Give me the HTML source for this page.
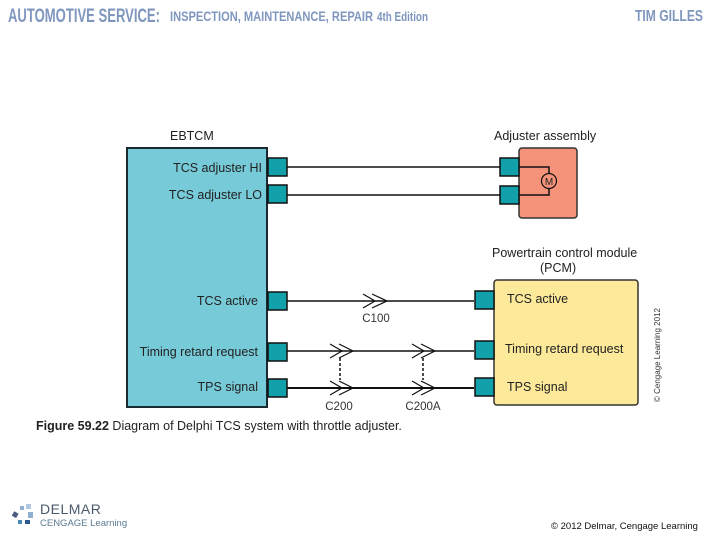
<!DOCTYPE html>
<html><head><meta charset="utf-8"><style>
body{margin:0;width:720px;height:540px;background:#fff;overflow:hidden;position:relative;font-family:"Liberation Sans",sans-serif}
</style></head><body>
<svg width="720" height="540" viewBox="0 0 720 540" xmlns="http://www.w3.org/2000/svg" style="position:absolute;left:0;top:0">
<g font-family="Liberation Sans, sans-serif" font-weight="bold" fill="#7f96bf">
<text x="8" y="22" font-size="19" textLength="152" lengthAdjust="spacingAndGlyphs">AUTOMOTIVE SERVICE:</text>
<text x="170" y="21" font-size="14" textLength="203" lengthAdjust="spacingAndGlyphs">INSPECTION, MAINTENANCE, REPAIR</text>
<text x="377" y="21" font-size="13" textLength="51" lengthAdjust="spacingAndGlyphs">4th Edition</text>
<text x="635" y="21" font-size="16" textLength="68" lengthAdjust="spacingAndGlyphs">TIM GILLES</text>
</g>
<g font-size="12.5" fill="#222">
<text x="170" y="140">EBTCM</text>
<text x="494" y="140">Adjuster assembly</text>
<text x="492" y="257">Powertrain control module</text>
<text x="540" y="272">(PCM)</text>
</g>
<rect x="127" y="148" width="140" height="259" fill="#77cbd9" stroke="#1a2a30" stroke-width="2"/>
<rect x="519" y="148" width="58" height="70" rx="3" fill="#f4937a" stroke="#333" stroke-width="1.5"/>
<rect x="494" y="280" width="144" height="125" rx="3" fill="#fde99a" stroke="#333" stroke-width="1.5"/>
<g stroke="#111" stroke-width="1.5" fill="none">
<line x1="287" y1="167" x2="500" y2="167"/>
<line x1="287" y1="195" x2="500" y2="195"/>
<line x1="287" y1="301" x2="474" y2="301"/>
<line x1="287" y1="351" x2="474" y2="351"/>
<line x1="287" y1="388" x2="474" y2="388" stroke-width="2"/>
<polyline points="519,167 549,167 549,174"/>
<polyline points="519,195 549,195 549,188"/>
<circle cx="549" cy="181" r="7.5" stroke-width="1.2"/>
<path d="M363,294 L375,301 L363,308 M372,294 L387,301 L372,308" stroke-width="1.2"/>
<path d="M330,344 L342,351 L330,358 M339,344 L353,351 L339,358" stroke-width="1.2"/>
<path d="M412,344 L424,351 L412,358 M421,344 L435,351 L421,358" stroke-width="1.2"/>
<path d="M330,381 L342,388 L330,395 M339,381 L353,388 L339,395" stroke-width="1.2"/>
<path d="M412,381 L424,388 L412,395 M421,381 L435,388 L421,395" stroke-width="1.2"/>
<line x1="340" y1="358" x2="340" y2="380" stroke-dasharray="3,2"/>
<line x1="423" y1="358" x2="423" y2="380" stroke-dasharray="3,2"/>
</g>
<g fill="#12a0aa" stroke="#111" stroke-width="1.5">
<rect x="268" y="158" width="19" height="18"/>
<rect x="268" y="185" width="19" height="18"/>
<rect x="268" y="292" width="19" height="18"/>
<rect x="268" y="343" width="19" height="18"/>
<rect x="268" y="379" width="19" height="18"/>
<rect x="500" y="158" width="19" height="18"/>
<rect x="500" y="186" width="19" height="18"/>
<rect x="475" y="291" width="19" height="18"/>
<rect x="475" y="341" width="19" height="18"/>
<rect x="475" y="378" width="19" height="18"/>
</g>
<text x="549" y="185" font-size="10" fill="#222" text-anchor="middle">M</text>
<g font-size="12.5" fill="#222" text-anchor="end">
<text x="262" y="172">TCS adjuster HI</text>
<text x="262" y="199">TCS adjuster LO</text>
<text x="258" y="305">TCS active</text>
<text x="258" y="356">Timing retard request</text>
<text x="258" y="391">TPS signal</text>
</g>
<g font-size="12.5" fill="#222">
<text x="507" y="303">TCS active</text>
<text x="505" y="353">Timing retard request</text>
<text x="507" y="391">TPS signal</text>
</g>
<g font-size="11.5" fill="#333" text-anchor="middle">
<text x="376" y="322">C100</text>
<text x="339" y="410">C200</text>
<text x="423" y="410">C200A</text>
</g>
<text x="0" y="0" font-size="8" fill="#333" transform="translate(660,402) rotate(-90)">© Cengage Learning 2012</text>
<text x="36" y="430" font-size="12.5" fill="#222"><tspan font-weight="bold">Figure 59.22</tspan>  Diagram of Delphi TCS system with throttle adjuster.</text>
<g>
<rect x="13" y="512" width="5" height="5" fill="#4a5a80" transform="rotate(30 15 514)"/>
<rect x="20" y="506" width="4" height="4" fill="#8fb0d0"/>
<rect x="26" y="504" width="5" height="5" fill="#b0c8e0"/>
<rect x="28" y="512" width="5" height="6" fill="#8fb0d0"/>
<rect x="18" y="520" width="4" height="4" fill="#4a8ab8"/>
<rect x="25" y="520" width="5" height="4" fill="#2a5a90"/>
</g>
<text x="40" y="514" font-size="14" fill="#4a5a6a" letter-spacing="0.5">DELMAR</text>
<text x="40" y="526" font-size="9.5" fill="#5a7a90">CENGAGE Learning</text>
<text x="551" y="529" font-size="9.5" fill="#111">© 2012 Delmar, Cengage Learning</text>
</svg>
</body></html>
